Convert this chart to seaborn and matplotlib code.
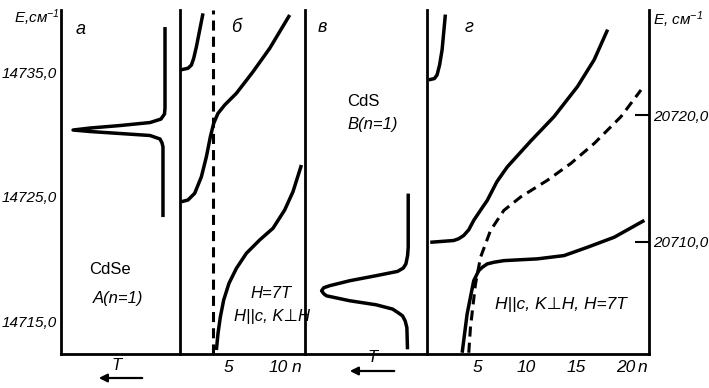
import matplotlib
matplotlib.use('Agg')
import pandas as pd
import matplotlib.pyplot as plt
import seaborn as sns

# ---- data ----
# panel a: CdSe A(n=1) spectrum, transmission T vs E (cm^-1)
cdse_T = [0.126, 0.126, 0.130, 0.160, 0.252, 0.504, 0.756, 0.899, 0.756, 0.504, 0.252,
          0.168, 0.151, 0.143, 0.143]
cdse_E = [14738.61, 14732.11, 14731.63, 14731.22, 14730.94, 14730.70, 14730.50, 14730.34,
          14730.22, 14730.06, 14729.90, 14729.62, 14729.30, 14728.98, 14723.35]

# panel b: CdSe branches vs n, H = 7 T
b_up_n = [0.2, 1.0, 1.34, 1.57, 1.84, 2.17, 2.5]
b_up_E = [14735.16, 14735.30, 14735.56, 14736.10, 14737.03, 14738.37, 14739.71]
b_mid_n = [0.34, 1.0, 1.67, 2.34, 2.84, 3.24, 3.57, 4.0, 4.67, 5.84, 7.5, 9.17, 11.17]
b_mid_E = [14724.58, 14724.72, 14725.26, 14726.59, 14728.20, 14729.81, 14730.88,
           14731.68, 14732.35, 14733.29, 14735.02, 14736.90, 14739.58]
b_low_n = [3.84, 4.0, 4.24, 4.57, 5.1, 5.84, 6.84, 8.17, 9.5, 10.67, 11.5, 12.34]
b_low_E = [14712.67, 14714.01, 14715.35, 14716.69, 14718.03, 14719.23, 14720.44,
           14721.51, 14722.45, 14723.92, 14725.39, 14727.53]
b_cut_n = 3.5

# panel c: CdS B(n=1) spectrum
cds_T = [0.154, 0.154, 0.159, 0.173, 0.195, 0.241, 0.417, 0.634, 0.797, 0.846, 0.864,
         0.846, 0.824, 0.634, 0.417, 0.282, 0.236, 0.201, 0.179, 0.165, 0.163, 0.160]
cds_E = [20713.79, 20709.55, 20708.89, 20708.23, 20707.90, 20707.64, 20707.30, 20706.90,
         20706.51, 20706.35, 20706.11, 20705.87, 20705.71, 20705.32, 20705.00, 20704.66,
         20704.37, 20704.13, 20703.73, 20703.20, 20702.54, 20701.48]

# panel d: CdS branches vs n, H = 7 T
g_up_n = [0.1, 0.67, 0.94, 1.2, 1.45, 1.78]
g_up_E = [20722.78, 20722.88, 20723.17, 20723.97, 20725.16, 20727.94]
g_mid_n = [0.25, 2.62, 3.13, 3.64, 4.15, 4.65, 5.51, 6.02, 7.0, 8.05, 10.42, 12.78,
           15.16, 16.85, 18.21]
g_mid_E = [20709.94, 20710.08, 20710.22, 20710.48, 20710.93, 20711.67, 20712.67,
           20713.25, 20714.73, 20715.90, 20717.94, 20719.87, 20722.25, 20724.37, 20726.75]
g_low_n = [3.48, 3.98, 4.32, 4.65, 5.16, 5.51, 6.02, 6.69, 7.70, 11.10, 13.80, 16.18,
           18.88, 21.93]
g_low_E = [20701.21, 20704.26, 20705.60, 20706.90, 20707.70, 20707.96, 20708.23,
           20708.36, 20708.49, 20708.63, 20708.89, 20709.55, 20710.34, 20711.67]
g_dash_n = [4.15, 4.32, 4.83, 5.34, 6.35, 7.70, 9.40, 12.11, 14.48, 16.85, 19.56, 21.59]
g_dash_E = [20701.21, 20703.20, 20706.64, 20708.75, 20710.87, 20712.46, 20713.52,
            20714.84, 20716.17, 20717.75, 20719.87, 20721.98]

cdse_ticks = [14715, 14725, 14735]
cds_ticks = [20710, 20720]

sns.set_theme(style='white')
plt.rcParams['font.family'] = ['Liberation Sans', 'DejaVu Sans']
plt.rcParams['font.style'] = 'italic'
plt.rcParams['mathtext.default'] = 'regular'

W, H = 709, 388
FS = 11
fig = plt.figure(figsize=(W / 100, H / 100), dpi=100)


def rect(x0, x1, y0=10, y1=354):
    return [x0 / W, 1 - y1 / H, (x1 - x0) / W, (y1 - y0) / H]


def ptxt(x, y, s, **kw):
    kw.setdefault('ha', 'center')
    kw.setdefault('va', 'center')
    kw.setdefault('fontsize', 12)
    fig.text(x / W, 1 - y / H, s, color='black', **kw)


ax_a = fig.add_axes(rect(61, 180))
ax_b = fig.add_axes(rect(180, 305))
ax_c = fig.add_axes(rect(305, 427))
ax_d = fig.add_axes(rect(427, 649))

for ax in (ax_a, ax_b, ax_c, ax_d):
    ax.set_facecolor('none')
    for s in ax.spines.values():
        s.set_color('black')
        s.set_linewidth(2.0)
    ax.spines['top'].set_visible(False)
    ax.spines['right'].set_visible(ax is ax_d)
    ax.tick_params(colors='black', direction='in', length=10, width=1.5, labelsize=FS, pad=3)
    ax.tick_params(axis='x', labelsize=12.5, pad=4)

lw = 2.5
line = dict(color='black', linewidth=lw, sort=False, estimator=None,
            solid_joinstyle='round', solid_capstyle='butt')
dash = (0, (3.3, 2.0))

# panel a
sns.lineplot(x=cdse_T, y=cdse_E, ax=ax_a, **line)
ax_a.set_xlim(1, 0)
ax_a.set_xticks([])
ax_a.set_yticks(cdse_ticks)
ax_a.set_yticklabels([f'{t},0' for t in cdse_ticks])

# panel b
sns.lineplot(x=b_up_n, y=b_up_E, ax=ax_b, **line)
sns.lineplot(x=b_mid_n, y=b_mid_E, ax=ax_b, **line)
sns.lineplot(x=b_low_n, y=b_low_E, ax=ax_b, **line)
ax_b.axvline(b_cut_n, color='black', linewidth=2.2, linestyle=dash)
ax_b.set_xlim(0.2, 12.7)
ax_b.set_xticks([5, 10])
ax_b.tick_params(axis='y', left=False, labelleft=False)

for ax in (ax_a, ax_b):
    ax.set_ylim(14712.35, 14739.98)

# panel c
sns.lineplot(x=cds_T, y=cds_E, ax=ax_c, **line)
ax_c.set_xlim(1, 0)
ax_c.set_xticks([])
ax_c.tick_params(axis='y', left=False, labelleft=False)

# panel d
sns.lineplot(x=g_up_n, y=g_up_E, ax=ax_d, **line)
sns.lineplot(x=g_mid_n, y=g_mid_E, ax=ax_d, **line)
sns.lineplot(x=g_low_n, y=g_low_E, ax=ax_d, **line)
sns.lineplot(x=g_dash_n, y=g_dash_E, ax=ax_d, color='black', linewidth=2.2,
             sort=False, estimator=None, linestyle=dash)
ax_d.set_xlim(-0.08, 22.4)
ax_d.set_xticks([5, 10, 15, 20])
ax_d.yaxis.tick_right()
ax_d.set_yticks(cds_ticks)
ax_d.set_yticklabels([f'{t},0' for t in cds_ticks])
ax_d.tick_params(axis='y', left=False, right=True, labelright=True)

for ax in (ax_c, ax_d):
    ax.set_ylim(20701.11, 20728.30)

for ax in (ax_a, ax_b, ax_c, ax_d):
    ax.set_xlabel('')
    ax.set_ylabel('')

# texts
ptxt(14, 18, 'E,см$^{-1}$', ha='left', fontsize=11)
ptxt(653, 20, 'E, см$^{-1}$', ha='left', fontsize=11)
ptxt(81, 29, 'а', fontsize=13)
ptxt(236, 27, 'б', fontsize=13)
ptxt(322, 27, 'в', fontsize=13)
ptxt(469, 28, 'г', fontsize=13)
ptxt(110, 270, 'CdSe', style='normal')
ptxt(118, 299, 'A(n=1)')
ptxt(363, 102, 'CdS', style='normal')
ptxt(373, 124, 'B(n=1)')
ptxt(271, 294, 'H=7T')
ptxt(272, 317, 'H||c, K⊥H')
ptxt(561, 304, 'H||c, K⊥H, H=7T', fontsize=12.5)
ptxt(297, 368, 'n', fontsize=12.5)
ptxt(643, 368, 'n', fontsize=12.5)
ptxt(117, 365, 'T')
ptxt(373, 357, 'T')

for x0, x1, y in ((145, 96, 378), (397, 347, 371)):
    fig.add_artist(matplotlib.patches.FancyArrowPatch(
        (x0 / W, 1 - y / H), (x1 / W, 1 - y / H), transform=fig.transFigure,
        arrowstyle='-|>', mutation_scale=12, color='black', linewidth=1.6))

fig.savefig('out.png', dpi=100)
